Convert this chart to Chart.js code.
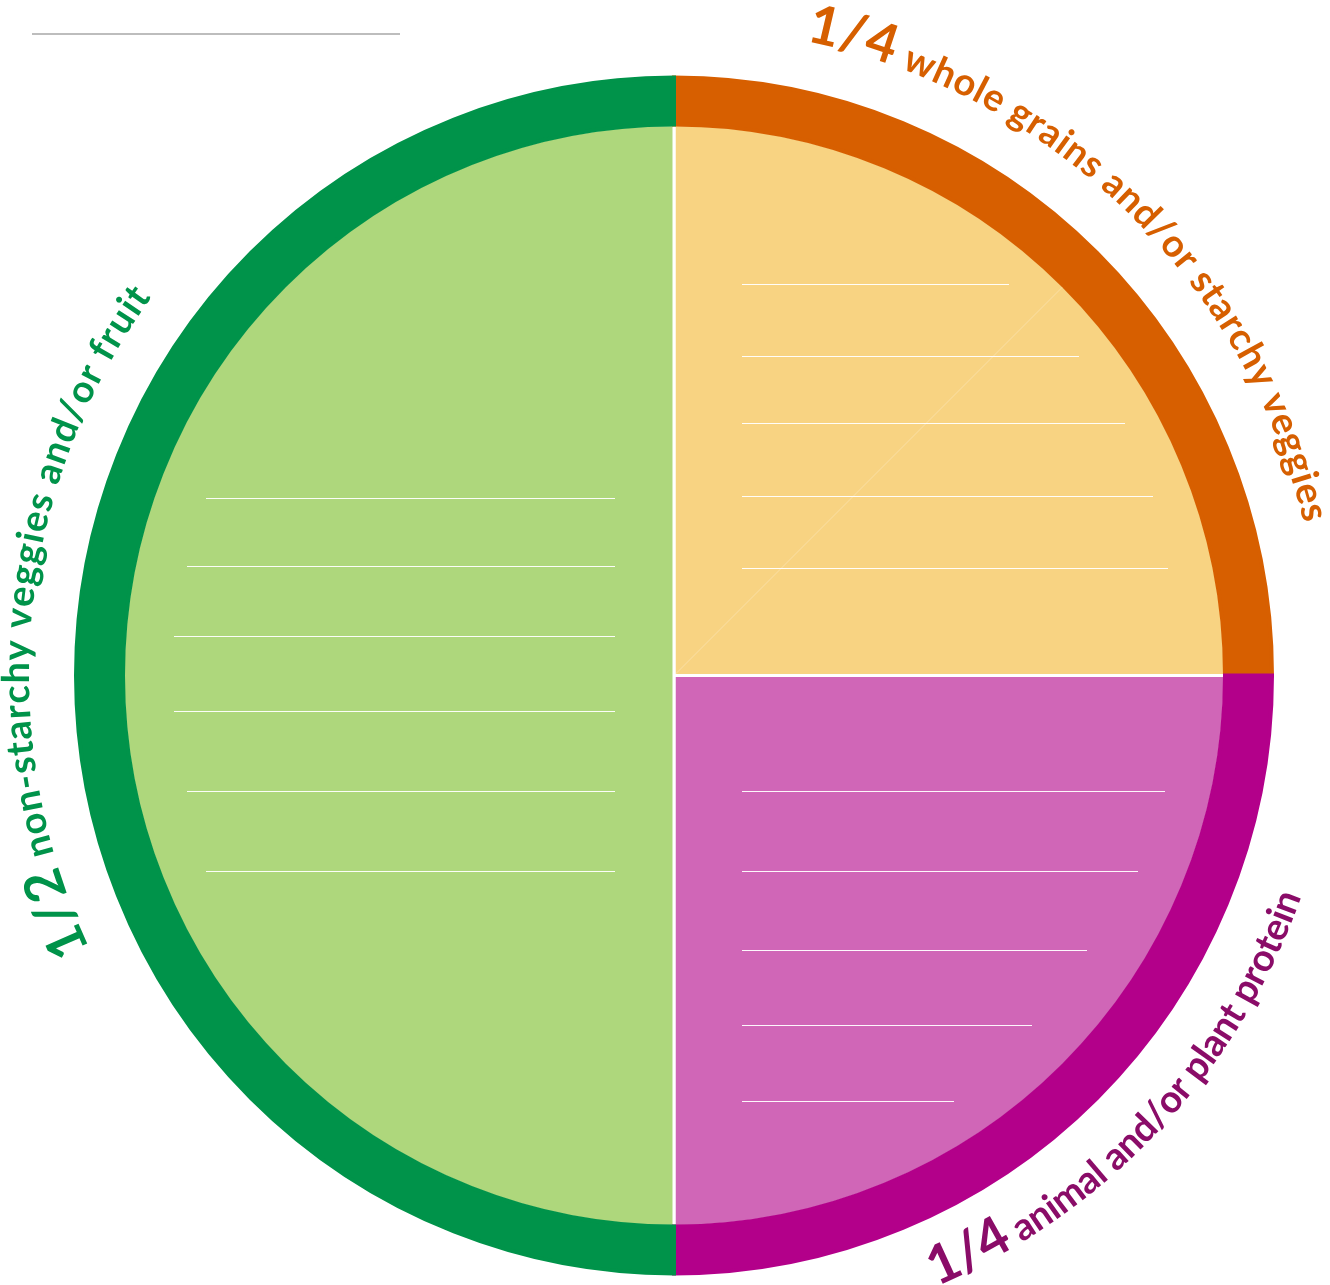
<!DOCTYPE html>
<html>
<head>
<meta charset="utf-8">
<script src="https://cdn.jsdelivr.net/npm/chart.js@4.4.1/dist/chart.umd.min.js"></script>
<style>
html,body{margin:0;padding:0;background:#ffffff;overflow:hidden;}
canvas{display:block;}
</style>
</head>
<body>
<canvas id="plate" width="1330" height="1285"></canvas>
<script>
// ---- data ----
const categories = ['whole grains and/or starchy veggies', 'animal and/or plant protein', 'non-starchy veggies and/or fruit'];
const fractions = ['1/4', '1/4', '1/2'];
const shares = [25, 25, 50];
const ringColors = ['#D75F00', '#B3008A', '#00934A'];
const fillColors = ['#F8D382', '#D066B7', '#AED77C'];
const labelColors = ['#D65F00', '#8A0C68', '#00934A'];

// ---- styling (positions relative to the pie centre / arc) ----
const labelStyle = [
  {shiftDeg: -0.95, spanDeg: 64.7, rOffset: 50, outward: true},
  {shiftDeg: -1.95, spanDeg: 47.3, rOffset: 67, outward: false},
  {shiftDeg: 5.4,   spanDeg: 61.0, rOffset: 47, outward: true}
];
const FONT = 'Lato';
const WEIGHT = 700;
const FRAC_SIZE = 54, BODY_SIZE = 38;
const MIN_GAP = -2.0;

// writing guides inside each section: [dy, x0, x1] relative to centre
const guides = [
  [[-391.5,68,335],[-319.8,68,405],[-252.5,68,451],[-179.5,68,479],[-107.5,68,494]],
  [[115.5,68,491],[195.5,68,464],[274.5,68,413],[349.5,68,358],[425.5,68,280]],
  [[-177.5,-468,-59],[-109.5,-487,-59],[-39.5,-500,-59],[35.5,-500,-59],[115.5,-487,-59],[195.5,-468,-59]]
];

const decorPlugin = {
  id: 'decor',
  afterDatasetsDraw(chart) {
    const ctx = chart.ctx;
    const inner = chart.getDatasetMeta(1).data[0];
    const cx = inner.x, cy = inner.y;
    ctx.save();
    // faint diagonal in first section
    ctx.strokeStyle = 'rgba(255,255,255,0.28)';
    ctx.lineWidth = 1;
    ctx.beginPath();
    const a = (inner.startAngle + inner.endAngle) / 2;
    ctx.moveTo(cx, cy);
    ctx.lineTo(cx + Math.cos(a) * (inner.outerRadius - 2), cy + Math.sin(a) * (inner.outerRadius - 2));
    ctx.stroke();
    // writing guides
    ctx.strokeStyle = 'rgba(255,255,255,0.95)';
    ctx.lineWidth = 1.2;
    guides.forEach(list => list.forEach(g => {
      const y = Math.round(cy + g[0]) + 0.5;
      ctx.beginPath();
      ctx.moveTo(cx + g[1], y);
      ctx.lineTo(cx + g[2], y);
      ctx.stroke();
    }));
    // top-left rule
    ctx.strokeStyle = '#BDBDBD';
    ctx.lineWidth = 2;
    ctx.beginPath();
    ctx.moveTo(32, 34);
    ctx.lineTo(400, 34);
    ctx.stroke();
    ctx.restore();

    // curved labels
    const ring = chart.getDatasetMeta(0).data;
    ring.forEach((arc, i) => {
      const st = labelStyle[i];
      const mid = (arc.startAngle + arc.endAngle) / 2 + st.shiftDeg * Math.PI / 180;
      const span = st.spanDeg * Math.PI / 180;
      const r = arc.outerRadius + st.rOffset;
      const chars = [];
      const frac = fractions[i];
      for (const ch of frac) chars.push({ch, size: FRAC_SIZE});
      chars.push({ch: ' ', size: BODY_SIZE});
      for (const ch of categories[i]) chars.push({ch, size: BODY_SIZE});
      let total = 0;
      chars.forEach(c => {
        ctx.font = `${WEIGHT} ${c.size}px ${FONT}`;
        c.w = ctx.measureText(c.ch).width;
        total += c.w;
      });
      const L = r * span;
      let scale = 1;
      let extra = (L - total) / (chars.length - 1);
      if (extra < MIN_GAP) {
        scale = (L - MIN_GAP * (chars.length - 1)) / total;
        extra = MIN_GAP;
      }
      const dir = st.outward ? 1 : -1;
      let phi = mid - dir * span / 2;
      ctx.save();
      ctx.fillStyle = labelColors[i];
      ctx.textAlign = 'center';
      ctx.textBaseline = 'alphabetic';
      chars.forEach(c => {
        const w = c.w * scale;
        const pc = phi + dir * (w / 2) / r;
        ctx.save();
        ctx.translate(cx + r * Math.cos(pc), cy + r * Math.sin(pc));
        ctx.rotate(st.outward ? pc + Math.PI / 2 : pc - Math.PI / 2);
        ctx.font = `${WEIGHT} ${c.size * scale}px ${FONT}`;
        ctx.fillText(c.ch, 0, 0);
        ctx.restore();
        phi += dir * (w + extra) / r;
      });
      ctx.restore();
    });
  }
};

new Chart(document.getElementById('plate'), {
  type: 'pie',
  data: {
    labels: categories,
    datasets: [
      {data: shares, backgroundColor: ringColors, borderColor: ringColors, borderWidth: 4,
       hoverBorderWidth: 4, hoverOffset: 0, weight: 47, borderJoinStyle: 'miter'},
      {data: shares, backgroundColor: fillColors, borderColor: '#ffffff', borderWidth: 3,
       hoverBorderWidth: 3, hoverOffset: 0, weight: 551}
    ]
  },
  options: {
    responsive: false,
    animation: false,
    events: [],
    radius: 598,
    cutout: 0,
    layout: {padding: {left: 18, top: 66, right: 0, bottom: 0}},
    plugins: {legend: {display: false}, tooltip: {enabled: false}, title: {display: false}}
  },
  plugins: [decorPlugin]
});
</script>
</body>
</html>
